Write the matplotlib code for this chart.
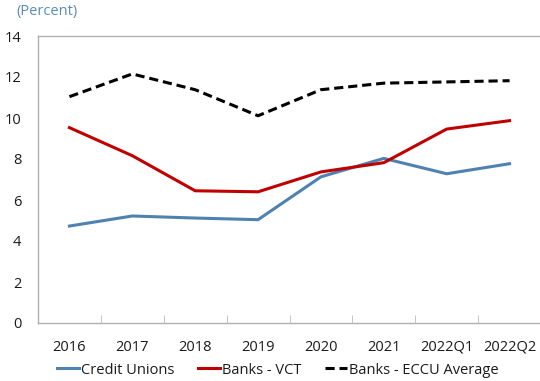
import matplotlib
matplotlib.use("Agg")
import matplotlib.pyplot as plt
import numpy as np

# -------------------------------
# Data
# -------------------------------
periods = ["2016", "2017", "2018", "2019", "2020", "2021", "2022Q1", "2022Q2"]
credit_unions = [4.73, 5.22, 5.12, 5.04, 7.13, 8.03, 7.28, 7.77]
banks_vct = [9.53, 8.16, 6.45, 6.40, 7.37, 7.82, 9.46, 9.87]
banks_eccu = [11.04, 12.15, 11.38, 10.11, 11.38, 11.70, 11.76, 11.82]

plt.rcParams['font.family'] = ['Open Sans', 'DejaVu Sans']

fig = plt.figure(figsize=(5.4, 3.81), dpi=100)
ax = fig.add_axes([38 / 540, 1 - 323 / 381, 503 / 540, 287 / 381])

x = np.arange(len(periods))
ax.plot(x, credit_unions, color="#4f81b1", lw=2.2, label="Credit Unions")
ax.plot(x, banks_vct, color="#c00000", lw=2.2, label="Banks - VCT")
ax.plot(x, banks_eccu, color="black", lw=2.2, ls=(0, (3, 1.6)), label="Banks - ECCU Average")

ax.set_xlim(-0.5, len(periods) - 0.5)
ax.set_ylim(0, 14)
ax.set_yticks(range(0, 15, 2))
ax.set_xticks(x)
ax.set_xticklabels(periods)
ax.set_xticks(np.arange(0.5, len(periods) - 0.5, 1), minor=True)

ax.tick_params(axis="y", length=0, pad=12, labelsize=10.5, colors="#1a1a1a")
ax.tick_params(axis="x", which="major", length=0, pad=12, labelsize=10.5, colors="#1a1a1a")
ax.tick_params(axis="x", which="minor", direction="in", length=6, color="#bbbbbb")

for side in ["left", "top", "bottom", "right"]:
    ax.spines[side].set_color("#b0b0b0")
    ax.spines[side].set_linewidth(1)

fig.text(16 / 540, 1 - 12 / 381, "(Percent)", color="#5b8db8", fontsize=10.5, va="center")

fig.legend(loc="center", bbox_to_anchor=(278 / 540, 1 - 370 / 381), ncol=3, frameon=False,
           fontsize=10.5, handlelength=1.5, handletextpad=0.15, columnspacing=1.6,
           labelcolor="#1a1a1a")

fig.savefig("out.png", dpi=100)
